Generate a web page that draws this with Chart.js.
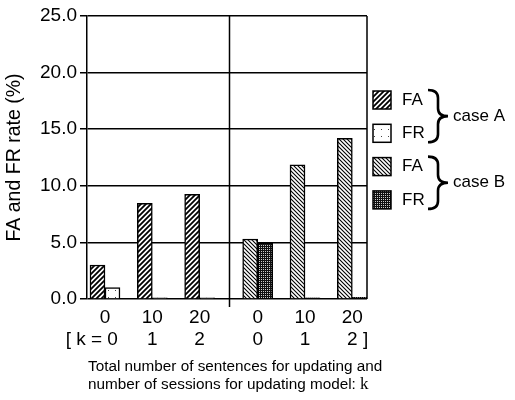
<!DOCTYPE html>
<html>
<head>
<meta charset="utf-8">
<script src="https://cdn.jsdelivr.net/npm/chart.js@4.4.1/dist/chart.umd.min.js"></script>
<style>
    html, body { margin: 0; padding: 0; background: #fff; }
    #wrap { width: 515px; height: 400px; }
</style>
</head>
<body>
<div id="wrap"><canvas id="myChart" width="515" height="400"></canvas></div>
<script>
const sentences = ['0', '10', '20', '0', '10', '20'];
const sessions = ['[ k = 0     ', '1', '2', '0', '1', '  2 ]'];
const cases = ['A', 'A', 'A', 'B', 'B', 'B'];
const caseA_FA = [3.0, 8.45, 9.25, null, null, null];
const caseA_FR = [1.0, 0.1, 0.1, null, null, null];
const caseB_FA = [null, null, null, 5.3, 11.85, 14.2];
const caseB_FR = [null, null, null, 4.95, 0.1, 0.15];
const yTicks = [0, 5, 10, 15, 20, 25];
const legendLabels = ['FA', 'FR', 'FA', 'FR'];
const caseLabels = ['case A', 'case B'];
const xTitle = ['Total number of sentences for updating and', 'number of sessions for updating model: '];
const xTitleVar = 'k';

// case B group sits a bit further right than one even step
const groupGap = 0.226;
const xPos = cases.map((c, i) => i + (c === 'B' ? groupGap : 0));

const SANS = "'Liberation Sans', Arial, Helvetica, sans-serif";
Chart.defaults.font.family = SANS;
Chart.defaults.color = '#000';

function makePattern(kind) {
    const c = document.createElement('canvas');
    const size = { hatchA: 5, hatchB: 4, dots: 7, stipple: 2 }[kind];
    c.width = size;
    c.height = size;
    const g = c.getContext('2d');
    g.fillStyle = '#fff';
    g.fillRect(0, 0, size, size);
    g.strokeStyle = '#000';
    g.fillStyle = '#000';
    if (kind === 'hatchA') {
        g.lineWidth = 1.8;
        g.beginPath();
        g.moveTo(0, size); g.lineTo(size, 0);
        g.moveTo(-1, 1); g.lineTo(1, -1);
        g.moveTo(size - 1, size + 1); g.lineTo(size + 1, size - 1);
        g.stroke();
    } else if (kind === 'hatchB') {
        g.lineWidth = 1.1;
        g.beginPath();
        g.moveTo(0, 0); g.lineTo(size, size);
        g.moveTo(-1, size - 1); g.lineTo(1, size + 1);
        g.moveTo(size - 1, -1); g.lineTo(size + 1, 1);
        g.stroke();
    } else if (kind === 'dots') {
        g.fillStyle = '#444';
        g.fillRect(3, 3, 1, 1);
    } else {
        // dark stipple: black with a grid of light dots
        g.fillStyle = '#111';
        g.fillRect(0, 0, 2, 2);
        g.fillStyle = '#ccc';
        g.fillRect(1, 1, 1, 1);
    }
    return g.createPattern(c, 'repeat');
}

const fills = [makePattern('hatchA'), makePattern('dots'), makePattern('hatchB'), makePattern('stipple')];

function toPoints(values) {
    return values.map((v, i) => ({ x: xPos[i], y: v }));
}

// right border, group divider, x title and the braced legend
const extras = {
    id: 'extras',
    afterDraw(chart) {
        const { ctx, chartArea: area, scales: { x } } = chart;
        ctx.save();
        ctx.strokeStyle = '#000';
        ctx.lineWidth = 1.5;

        ctx.beginPath();
        ctx.moveTo(area.right, area.top);
        ctx.lineTo(area.right, area.bottom);
        const mid = Math.round(x.getPixelForValue((xPos[2] + xPos[3]) / 2)) + 0.5;
        ctx.moveTo(mid, area.top);
        ctx.lineTo(mid, area.bottom + 8);
        ctx.stroke();

        // axis title, left aligned under the plot, serif "k"
        ctx.fillStyle = '#000';
        ctx.textBaseline = 'middle';
        ctx.textAlign = 'left';
        ctx.font = '15.3px ' + SANS;
        const tx = area.left + 1;
        ctx.fillText(xTitle[0], tx, area.bottom + 68);
        ctx.fillText(xTitle[1], tx, area.bottom + 86);
        const w2 = ctx.measureText(xTitle[1]).width;
        ctx.font = "17px 'Liberation Serif', 'Times New Roman', serif";
        ctx.fillText(xTitleVar, tx + w2, area.bottom + 86);

        const boxX = area.right + 6;
        const rowTop = 100;
        const rowH = 33.3;
        ctx.font = '17px ' + SANS;
        chart.data.datasets.forEach((ds, i) => {
            const cy = rowTop + i * rowH;
            ctx.fillStyle = ds.backgroundColor;
            ctx.fillRect(boxX, cy - 9, 18, 18);
            ctx.strokeRect(boxX, cy - 9, 18, 18);
            ctx.fillStyle = '#000';
            ctx.fillText(legendLabels[i], boxX + 29, cy);
        });

        caseLabels.forEach((label, k) => {
            const top = rowTop + 2 * k * rowH - 10;
            const bot = rowTop + (2 * k + 1) * rowH + 9;
            const cy = (top + bot) / 2;
            const x0 = boxX + 55;
            const w = 20;
            const xm = x0 + w / 2;
            const r = 8;
            ctx.lineWidth = 2.6;
            ctx.beginPath();
            ctx.moveTo(x0, top);
            ctx.quadraticCurveTo(xm, top, xm, top + r);
            ctx.lineTo(xm, cy - r);
            ctx.quadraticCurveTo(xm, cy, x0 + w, cy);
            ctx.quadraticCurveTo(xm, cy, xm, cy + r);
            ctx.lineTo(xm, bot - r);
            ctx.quadraticCurveTo(xm, bot, x0, bot);
            ctx.stroke();
            ctx.fillText(label, x0 + w + 5, cy);
        });
        ctx.restore();
    }
};

const ctx = document.getElementById('myChart').getContext('2d');

new Chart(ctx, {
    type: 'bar',
    data: {
        datasets: [caseA_FA, caseA_FR, caseB_FA, caseB_FR].map((vals, i) => ({
            label: legendLabels[i],
            data: toPoints(vals),
            backgroundColor: fills[i],
            borderColor: '#000',
            borderWidth: 1.5,
            barThickness: 15,
            skipNull: true,
        }))
    },
    options: {
        responsive: false,
        devicePixelRatio: 1,
        animation: false,
        layout: { padding: { top: 16, right: 148, left: 0, bottom: 0 } },
        plugins: {
            legend: { display: false },
            tooltip: { enabled: false },
        },
        scales: {
            x: {
                type: 'linear',
                offset: false,
                min: xPos[0] - 0.38,
                max: xPos[xPos.length - 1] + 0.31,
                afterBuildTicks: (s) => { s.ticks = xPos.map(v => ({ value: v })); },
                ticks: {
                    autoSkip: false,
                    maxRotation: 0,
                    padding: 8,
                    color: '#000',
                    font: { size: 19, lineHeight: 1.16 },
                    callback: (v, i) => [sentences[i], sessions[i]],
                },
                grid: { display: false, drawTicks: false },
                border: { display: false },
                title: { display: false },
                afterFit: (s) => { s.height = 101; },
            },
            y: {
                min: 0,
                max: 25,
                afterBuildTicks: (s) => { s.ticks = yTicks.map(v => ({ value: v })); },
                ticks: {
                    padding: 3,
                    color: '#000',
                    font: { size: 19 },
                    callback: (v) => v.toFixed(1),
                },
                grid: { color: '#000', lineWidth: 1.5, tickLength: 7, tickColor: '#000', tickWidth: 1.5 },
                border: { display: true, color: '#000', width: 1.5 },
                title: {
                    display: true,
                    text: 'FA and FR rate (%)',
                    color: '#000',
                    font: { size: 19.5 },
                    padding: { top: 3, bottom: 0 },
                },
                afterFit: (s) => { s.width = 87; },
            },
        },
    },
    plugins: [extras],
});
</script>
</body>
</html>
